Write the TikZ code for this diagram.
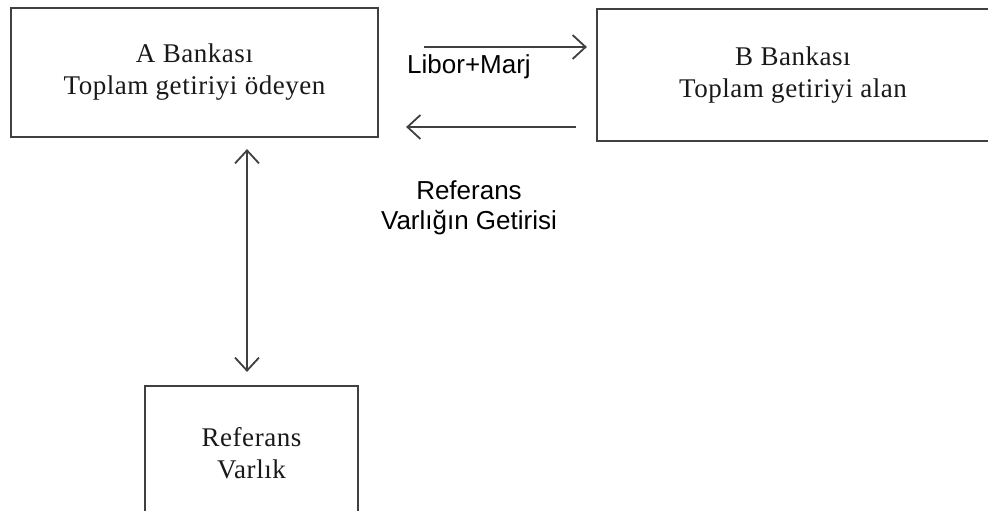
\documentclass[tikz,border=0pt]{standalone}
\usepackage{fontspec}
\setmainfont{Liberation Serif}[LetterSpace=2]
\newfontfamily\arialf{Liberation Sans}
\usetikzlibrary{arrows.meta}
\begin{document}
\begin{tikzpicture}[x=1pt,y=-1pt,
  boxs/.style={draw=black!75,line width=2.2pt,rectangle,align=center,inner sep=0pt,
    font=\fontsize{27}{32}\selectfont,text=black!90},
  conn/.style={draw=black!75,line width=2pt,-{Straight Barb[length=13pt,width=24pt,line width=1.8pt]}},
  lbl/.style={font=\arialf\fontsize{26}{30}\selectfont,align=center,inner sep=0pt}]
\useasboundingbox (0,0) rectangle (988,511);
\clip (0,0) rectangle (988,511);
\fill[white] (0,0) rectangle (988,511);
\node[boxs,minimum width=367pt,minimum height=129pt] (A) at (194.5,72.5) {A Bankası\\Toplam getiriyi ödeyen};
\node[boxs,minimum width=403pt,minimum height=132pt] (B) at (798.5,75) {\hspace*{-11pt}B Bankası\\\hspace*{-11pt}Toplam getiriyi alan};
\node[boxs,minimum width=213pt,minimum height=134pt] (R) at (251.5,453) {Referans\\Varlık};
\node[lbl] (L1) at (469,67) {Libor+Marj};
\node[lbl] (L2) at (469,208) {Referans\\Varlığın Getirisi};
\coordinate (t1) at (A.east |- 0,47);
\coordinate (t2) at (B.west |- 0,47);
\coordinate (b1) at (B.west |- 0,127);
\coordinate (b2) at (A.east |- 0,127);
\draw[conn,shorten <=45pt,shorten >=9pt] (t1) -- (t2);
\draw[conn,shorten <=20pt,shorten >=27pt] (b1) -- (b2);
\coordinate (v1) at (247,0 |- A.south);
\coordinate (v2) at (247,0 |- R.north);
\draw[conn,{Straight Barb[length=13pt,width=24pt,line width=1.8pt]}-{Straight Barb[length=13pt,width=24pt,line width=1.8pt]},shorten <=11pt,shorten >=13pt] (v1) -- (v2);
\end{tikzpicture}
\end{document}
